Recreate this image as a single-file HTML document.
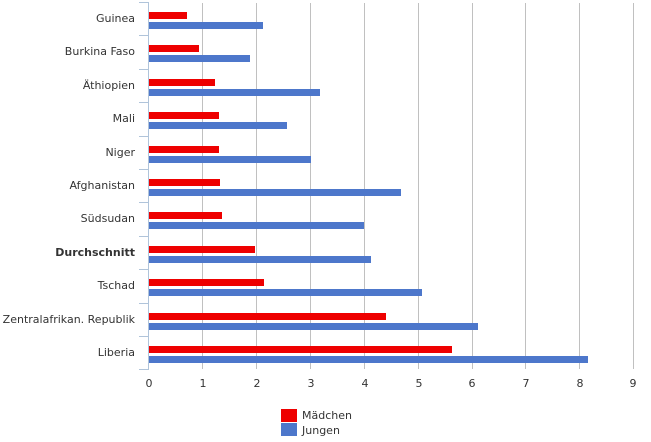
<!DOCTYPE html>
<html><head><meta charset="utf-8"><style>
body{margin:0;background:#fff;}
svg text{font-family:"DejaVu Sans","Liberation Sans",sans-serif;font-size:11px;fill:#333;}
</style></head><body>
<svg width="651" height="437" viewBox="0 0 651 437" xmlns="http://www.w3.org/2000/svg">
<g stroke="#c0c0c0" stroke-width="1">
<line x1="202.5" y1="3" x2="202.5" y2="369"/><line x1="256.5" y1="3" x2="256.5" y2="369"/>
<line x1="310.5" y1="3" x2="310.5" y2="369"/><line x1="364.5" y1="3" x2="364.5" y2="369"/>
<line x1="418.5" y1="3" x2="418.5" y2="369"/><line x1="472.5" y1="3" x2="472.5" y2="369"/>
<line x1="525.5" y1="3" x2="525.5" y2="369"/><line x1="579.5" y1="3" x2="579.5" y2="369"/>
<line x1="633.5" y1="3" x2="633.5" y2="369"/>
</g>
<g id="bars"></g>
<g stroke="#b0c4da" stroke-width="1">
<line x1="148.5" y1="3" x2="148.5" y2="369"/>
</g>
<g id="ticks" stroke="#b0c4da"></g>
<g id="labels"></g>
<g text-anchor="middle">
<text x="149" y="387">0</text><text x="203" y="387">1</text><text x="257" y="387">2</text>
<text x="311" y="387">3</text><text x="365" y="387">4</text><text x="419" y="387">5</text>
<text x="472" y="387">6</text><text x="526" y="387">7</text><text x="580" y="387">8</text>
<text x="633" y="387">9</text>
</g>
<rect x="281" y="409" width="16" height="13" fill="#ee0000"/>
<rect x="281" y="423" width="16" height="13" fill="#4d77cb"/>
<text x="302" y="419">Mädchen</text>
<text x="302" y="434">Jungen</text>
<script>
var d=[["Guinea",187,263],["Burkina Faso",199,250],["Äthiopien",215,320],["Mali",219,287],["Niger",219,311],["Afghanistan",220,401],["Südsudan",222,364],["Durchschnitt",255,371],["Tschad",264,422],["Zentralafrikan. Republik",386,478],["Liberia",452,588]];
var ns="http://www.w3.org/2000/svg",b=document.getElementById("bars"),t=document.getElementById("ticks"),l=document.getElementById("labels");
function el(p,n,a,txt){var e=document.createElementNS(ns,n);for(var k in a)e.setAttribute(k,a[k]);if(txt)e.textContent=txt;p.appendChild(e);}
for(var i=0;i<=11;i++){var y=Math.round(2+i*33.4)+0.5;el(t,"line",{x1:139,y1:y,x2:149,y2:y});}
d.forEach(function(r,i){var y0=2+i*33.4;
el(b,"rect",{x:149,y:Math.round(y0+10),width:r[1]-149,height:7,fill:"#ee0000"});
el(b,"rect",{x:149,y:Math.round(y0+20),width:r[2]-149,height:7,fill:"#4d77cb"});
var a={x:135,y:Math.round(y0+20),"text-anchor":"end"};if(r[0]=="Durchschnitt")a["font-weight"]="bold";
el(l,"text",a,r[0]);});
</script>
</svg>
</body></html>
